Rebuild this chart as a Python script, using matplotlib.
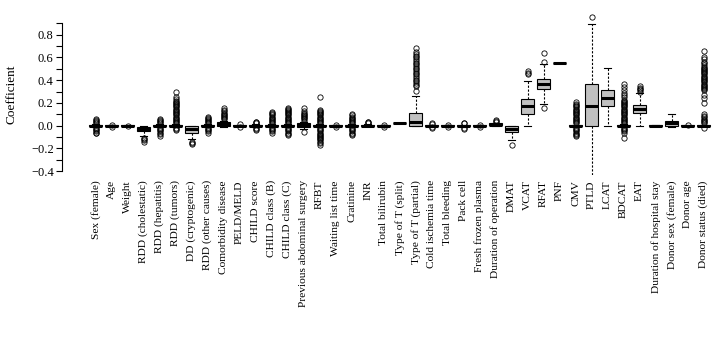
"""Boxplots of bootstrap coefficients per variable (R-style boxplot look)."""

import matplotlib

matplotlib.use("Agg")
import matplotlib.pyplot as plt
from matplotlib.ticker import MultipleLocator

plt.rcParams["font.family"] = ["Liberation Serif", "DejaVu Serif"]

LABELS = [
    "Sex (female)", "Age", "Weight", "RDD (cholestatic)", "RDD (hepatitis)",
    "RDD (tumors)", "DD (cryptogenic)", "RDD (other causes)", "Comorbidity disease",
    "PELD/MELD", "CHILD score", "CHILD class (B)", "CHILD class (C)",
    "Previous abdominal surgery", "RFBT", "Waiting list time", "Cratinine", "INR",
    "Total bilirubin", "Type of T (split)", "Type of T (partial)", "Cold ischemia time",
    "Total bleeding", "Pack cell", "Fresh frozen plasma", "Duration of operation",
    "DMAT", "VCAT", "RFAT", "PNF", "CMV", "PTLD", "LCAT", "BDCAT", "EAT",
    "Duration of hospital stay", "Donor sex (female)", "Donor age", "Donor status (died)",
]

MEDIANS = [0.0, 0.0, 0.0, -0.027, 0.0, 0.0, -0.03, 0.0, 0.015, 0.0, 0.0, 0.0, 0.0,
           0.009, 0.0, 0.0, 0.0, 0.0, 0.0, 0.027, 0.03, 0.0, 0.0, 0.0, 0.0, 0.01,
           -0.025, 0.173, 0.365, 0.554, 0.0, 0.176, 0.246, 0.0, 0.147, 0.0, 0.02, 0.0, 0.0]
Q1 = [-0.004, -0.002, -0.002, -0.05, -0.004, -0.004, -0.06, -0.004, -0.003, -0.002,
      -0.004, -0.004, -0.004, -0.009, -0.004, -0.002, -0.004, -0.002, -0.002, 0.027,
      -0.003, -0.003, -0.002, -0.003, -0.002, 0.003, -0.055, 0.103, 0.32, 0.554,
      -0.003, -0.003, 0.173, -0.004, 0.109, -0.003, -0.003, -0.002, -0.003]
Q3 = [0.004, 0.002, 0.002, -0.01, 0.004, 0.004, -0.005, 0.004, 0.03, 0.002, 0.004,
      0.004, 0.004, 0.026, 0.004, 0.002, 0.004, 0.008, 0.002, 0.027, 0.109, 0.003,
      0.002, 0.003, 0.002, 0.02, -0.003, 0.237, 0.41, 0.554, 0.003, 0.364, 0.314,
      0.004, 0.179, 0.003, 0.044, 0.002, 0.003]
WHISLO = [-0.015, -0.005, -0.004, -0.09, -0.015, -0.015, -0.12, -0.015, -0.01, -0.005,
          -0.015, -0.015, -0.015, -0.03, -0.015, -0.005, -0.015, -0.005, -0.005, 0.027,
          -0.005, -0.01, -0.005, -0.01, -0.005, 0.0, -0.125, 0.0, 0.19, 0.554, -0.01,
          -0.45, 0.0, -0.015, 0.0, -0.005, -0.01, -0.005, -0.005]
WHISHI = [0.015, 0.005, 0.004, 0.0, 0.015, 0.015, 0.0, 0.015, 0.045, 0.005, 0.015,
          0.015, 0.015, 0.035, 0.015, 0.005, 0.015, 0.015, 0.005, 0.027, 0.26, 0.01,
          0.005, 0.01, 0.005, 0.025, 0.0, 0.396, 0.545, 0.554, 0.01, 0.894, 0.505,
          0.015, 0.29, 0.005, 0.1, 0.005, 0.005]
OUTLIERS = [
    [0.02, 0.03, 0.04, 0.05, 0.055, -0.02, -0.03, -0.04, -0.05, -0.06, -0.065],
    [0.008, -0.008],
    [0.0],
    [-0.11, -0.12, -0.13, -0.145],
    [0.02, 0.03, 0.04, 0.05, 0.058, -0.02, -0.03, -0.04, -0.05, -0.06, -0.07, -0.09],
    [0.3, 0.25, 0.235, 0.22, 0.21, 0.2, 0.19, 0.18, 0.17, 0.16, 0.15, 0.14, 0.13, 0.12,
     0.11, 0.1, 0.09, 0.08, 0.07, 0.06, 0.05, 0.04, 0.03, 0.02, -0.02, -0.03, -0.04],
    [-0.14, -0.15, -0.16],
    [0.08, 0.07, 0.06, 0.05, 0.04, 0.03, 0.02, -0.02, -0.03, -0.04, -0.05, -0.06],
    [0.055, 0.065, 0.075, 0.085, 0.095, 0.105, 0.115, 0.125, 0.135, 0.155],
    [0.012, -0.012],
    [0.02, 0.03, 0.035, -0.02, -0.03, -0.038],
    [0.12, 0.11, 0.1, 0.09, 0.08, 0.07, 0.06, 0.05, 0.04, 0.03, 0.02,
     -0.02, -0.03, -0.04, -0.05, -0.065],
    [0.158, 0.15, 0.14, 0.13, 0.12, 0.11, 0.1, 0.09, 0.08, 0.07, 0.06, 0.05, 0.04,
     0.03, 0.02, -0.02, -0.03, -0.04, -0.05, -0.06, -0.07, -0.082],
    [0.045, 0.055, 0.065, 0.075, 0.085, 0.095, 0.105, 0.115, 0.13, 0.158, -0.053],
    [0.255, 0.14, 0.13, 0.12, 0.11, 0.1, 0.09, 0.08, 0.07, 0.06, 0.05, 0.04, 0.03, 0.02,
     -0.02, -0.03, -0.04, -0.05, -0.06, -0.07, -0.08, -0.09, -0.1, -0.11, -0.12, -0.13,
     -0.14, -0.15, -0.17],
    [0.008, -0.008],
    [0.1, 0.09, 0.08, 0.07, 0.06, 0.05, 0.04, 0.03, 0.02,
     -0.02, -0.03, -0.04, -0.05, -0.06, -0.07, -0.08],
    [0.022, 0.028, 0.035],
    [0.008, -0.008],
    [],
    [0.686, 0.65, 0.63, 0.615, 0.6, 0.585, 0.57, 0.555, 0.54, 0.525, 0.51, 0.495, 0.48,
     0.465, 0.45, 0.435, 0.42, 0.405, 0.39, 0.375, 0.36, 0.345, 0.305],
    [0.015, 0.02, -0.015, -0.02],
    [0.008, -0.008],
    [0.02, 0.025, -0.02, -0.025],
    [0.01, -0.01],
    [0.035, 0.045, 0.05],
    [-0.17],
    [0.45, 0.465, 0.48],
    [0.155, 0.56, 0.642],
    [],
    [0.21, 0.19, 0.18, 0.17, 0.16, 0.15, 0.14, 0.13, 0.12, 0.11, 0.1, 0.09, 0.08, 0.07,
     0.06, 0.05, 0.04, 0.03, 0.02, -0.02, -0.03, -0.04, -0.05, -0.06, -0.07, -0.08, -0.09],
    [0.953],
    [],
    [0.37, 0.34, 0.31, 0.29, 0.27, 0.25, 0.23, 0.22, 0.21, 0.2, 0.19, 0.18, 0.17, 0.16,
     0.15, 0.14, 0.13, 0.12, 0.11, 0.1, 0.09, 0.08, 0.07, 0.06, 0.05, 0.04, 0.03, 0.02,
     -0.02, -0.03, -0.04, -0.05, -0.06, -0.11],
    [0.3, 0.31, 0.32, 0.33, 0.35],
    [],
    [],
    [0.01],
    [0.66, 0.6, 0.585, 0.56, 0.548, 0.53, 0.52, 0.51, 0.5, 0.49, 0.48, 0.47, 0.46, 0.45,
     0.44, 0.43, 0.42, 0.41, 0.4, 0.39, 0.38, 0.37, 0.36, 0.35, 0.34, 0.33, 0.32, 0.31,
     0.27, 0.24, 0.2, 0.1, 0.085, 0.074, 0.06, 0.05, 0.04, 0.03, 0.02, -0.02],
]


def main() -> None:
    stats = [
        {"med": m, "q1": a, "q3": b, "whislo": lo, "whishi": hi, "fliers": f}
        for m, a, b, lo, hi, f in zip(MEDIANS, Q1, Q3, WHISLO, WHISHI, OUTLIERS)
    ]

    fig = plt.figure(figsize=(7.24, 3.37), dpi=100)
    ax = fig.add_axes([0.0856, 0.4819, 0.8996, 0.476])

    ax.bxp(
        stats,
        positions=range(len(LABELS)),
        widths=0.8,
        capwidths=0.4,
        patch_artist=True,
        boxprops={"facecolor": "#c0c0c0", "edgecolor": "black", "linewidth": 0.8},
        medianprops={"color": "black", "linewidth": 2.2, "solid_capstyle": "butt"},
        whiskerprops={"color": "black", "linewidth": 0.8, "linestyle": (0, (2, 1.5))},
        capprops={"color": "black", "linewidth": 0.8},
        flierprops={"marker": "o", "markersize": 3.8, "markerfacecolor": "none",
                    "markeredgecolor": "black", "markeredgewidth": 0.6},
    )

    ax.set_xlim(-2.1, 38.6)
    ax.set_ylim(-0.43, 0.98)
    for side in ("top", "right", "bottom"):
        ax.spines[side].set_visible(False)
    ax.spines["left"].set_bounds(-0.4, 0.9)
    ax.spines["left"].set_linewidth(0.8)

    ax.set_yticks([-0.4, -0.2, 0.0, 0.2, 0.4, 0.6, 0.8])
    ax.set_yticklabels(["\u22120.4", "\u22120.2", "0.0", "0.2", "0.4", "0.6", "0.8"])
    ax.yaxis.set_minor_locator(MultipleLocator(0.1))
    ax.tick_params(axis="y", which="both", length=4, width=0.8, labelsize=9, pad=2)

    ax.set_xticks(range(len(LABELS)))
    ax.set_xticklabels(LABELS, rotation=90, fontsize=8.2)
    ax.tick_params(axis="x", length=0, pad=4)

    ax.set_ylabel("Coefficient", fontsize=9.5, labelpad=10)

    fig.savefig("out.png", dpi=100)
    plt.close(fig)


if __name__ == "__main__":
    main()
